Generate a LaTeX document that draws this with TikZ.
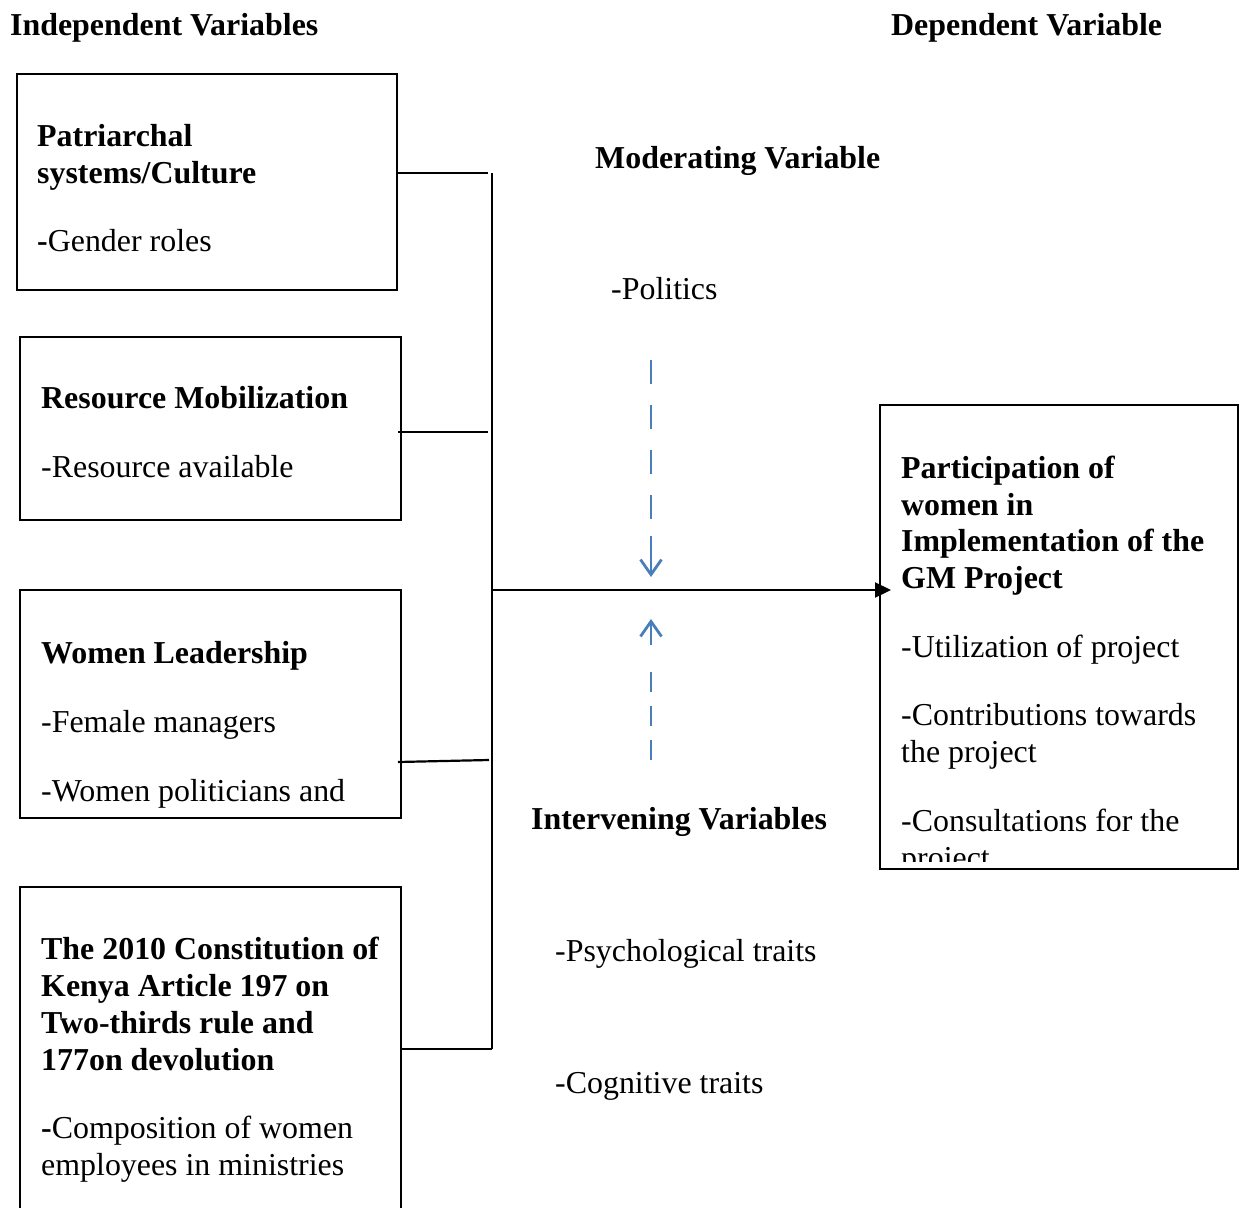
\documentclass[tikz,border=0pt]{standalone}
\usepackage{fontspec}
\setmainfont{Liberation Serif}
\usetikzlibrary{arrows.meta}
\definecolor{dblue}{HTML}{4A7EBB}
\begin{document}
\begin{tikzpicture}[x=1pt,y=-1pt,
  txt/.style={anchor=base west,inner sep=0pt,yshift=-2pt,font=\fontsize{31.9}{37}\selectfont},
  hd/.style={anchor=base west,inner sep=0pt,yshift=-2pt,font=\fontsize{31.9}{37}\selectfont\bfseries},
  box/.style={draw,line width=2.2pt,inner sep=0pt},
  conn/.style={line width=2.2pt},
  mod/.style={dblue,line width=2.8pt}]
\useasboundingbox (0,0) rectangle (1239,1207);

% headings
\node[hd] (hind) at (10,34) {Independent Variables};
\node[hd] (hdep) at (891,34) {Dependent Variable};
\node[hd] (hmod) at (595,166) {Moderating Variable};
\node[hd] (hint) at (531,827) {Intervening Variables};

% boxes
\node[box,minimum width=380pt,minimum height=216pt] (b1) at (207,182) {};
\node[box,minimum width=381pt,minimum height=183pt] (b2) at (210.5,428.5) {};
\node[box,minimum width=381pt,minimum height=228pt] (b3) at (210.5,704) {};
\node[inner sep=0pt,minimum width=381pt,minimum height=330pt] (b4) at (210.5,1052) {};
\draw[line width=2.2pt] (b4.south west) -- (b4.north west) -- (b4.north east) -- (b4.south east);
\node[box,minimum width=358pt,minimum height=464pt] (rb) at (1059,637) {};

% box 1 text
\node[hd] (t11) at (37,144) {Patriarchal};
\node[hd] (t12) at (37,181) {systems/Culture};
\node[txt] (t13) at (37,249) {\textbf{-}Gender roles};
% box 2 text
\node[hd] (t21) at (41,406) {Resource Mobilization};
\node[txt] (t22) at (41,475) {-Resource available};
% box 3 text
\node[hd] (t31) at (41,661) {Women Leadership};
\node[txt] (t32) at (41,730) {-Female managers};
\node[txt] (t33) at (41,799) {-Women politicians and};
% box 4 text
\node[hd] (t41) at (41,957) {The 2010 Constitution of};
\node[hd] (t42) at (41,994) {Kenya Article 197 on};
\node[hd] (t43) at (41,1031) {Two-thirds rule and};
\node[hd] (t44) at (41,1068) {177on devolution};
\node[txt] (t45) at (41,1136) {\textbf{-}Composition of women};
\node[txt] (t46) at (41,1173) {employees in ministries};
% right box text
\node[hd] (r1) at (901,476) {Participation of};
\node[hd] (r2) at (901,513) {women in};
\node[hd] (r3) at (901,549) {Implementation of the};
\node[hd] (r4) at (901,586) {GM Project};
\node[txt] (r5) at (901,655) {-Utilization of project};
\node[txt] (r6) at (901,723) {-Contributions towards};
\node[txt] (r7) at (901,760) {the project};
\node[txt] (r8) at (901,829) {-Consultations for the};
\begin{scope}
\clip (885,835) rectangle (1235,861);
\node[txt] (r9) at (901,866) {project};
\end{scope}

% other texts
\node[txt] (pol) at (611,297) {-Politics};
\node[txt] (psy) at (555,959) {-Psychological traits};
\node[txt] (cog) at (555,1091) {-Cognitive traits};

% bus
\coordinate (bus1) at (488,173);
\coordinate (bus2) at (488,432);
\coordinate (bus3) at (489,760);
\coordinate (bustop) at (492,173);
\coordinate (busmid) at (492,590);
\coordinate (busbot) at (492,1049);
\draw[conn] (bustop) -- (busbot);
\draw[conn] (b1.east |- bus1) -- (bus1);
\draw[conn] ([xshift=-4pt]b2.east |- bus2) -- (bus2);
\draw[conn] (398,762) -- (bus3);
\draw[conn] (b4.east |- busbot) -- (busbot);

% main arrow
\coordinate (tip) at (891,590);
\draw[conn,-{Triangle[length=16pt,width=15pt]}] (busmid) -- (tip);

% moderating arrow
\coordinate (mtop) at (651,360);
\coordinate (mtip) at (651,577);
\draw[mod,dash pattern=on 24pt off 21pt] (mtop) -- (651,520);
\draw[mod,-{Straight Barb[length=15pt,width=21pt]}] (651,536) -- (mtip);

% intervening arrow
\coordinate (itip) at (651,619);
\coordinate (ibot) at (651,760);
\draw[mod,dash pattern=on 20pt off 14pt] (ibot) -- (651,667);
\draw[mod,-{Straight Barb[length=15pt,width=21pt]}] (651,645) -- (itip);
\end{tikzpicture}
\end{document}
